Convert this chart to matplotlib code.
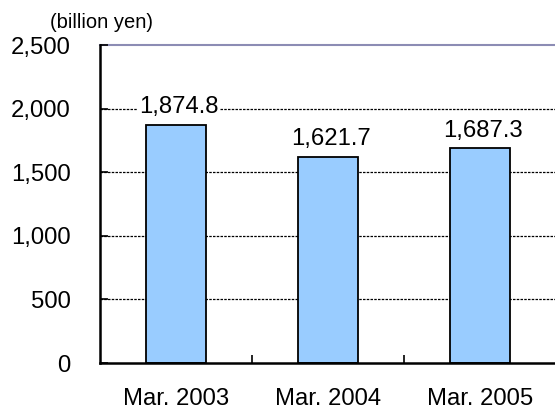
import matplotlib.pyplot as plt
import matplotlib.ticker as ticker

plt.rcParams['font.family'] = ['Liberation Sans', 'DejaVu Sans']

categories = ['Mar. 2003', 'Mar. 2004', 'Mar. 2005']
values = [1874.8, 1621.7, 1687.3]
value_labels = ['1,874.8', '1,621.7', '1,687.3']
y_ticks = [0, 500, 1000, 1500, 2000, 2500]

fig = plt.figure(figsize=(5.55, 4.12), dpi=100)
ax = fig.add_axes([0.1802, 0.1189, 0.8216, 0.7718])

x = list(range(len(categories)))
ax.bar(x, values, width=0.39, color='#99ccff', edgecolor='black', linewidth=1.3, zorder=3)

# gridlines (dotted) and the coloured line at the top
for yv in y_ticks[1:-1]:
    ax.axhline(yv, color='black', linestyle=(0, (2, 1)), linewidth=0.9, zorder=1)
ax.axhline(2500, color='#8c8cb4', linewidth=1.5, zorder=1, clip_on=False)

for xi, v, lab in zip(x, values, value_labels):
    ax.annotate(lab, (xi, v), xytext=(2, 8.5), textcoords='offset points',
                ha='center', va='baseline', fontsize=17.2, zorder=4,
                bbox=dict(boxstyle='square,pad=0.08', facecolor='white', edgecolor='none'))

ax.set_xlim(-0.5, 2.5)
ax.set_ylim(0, 2500)

ax.yaxis.set_major_locator(ticker.FixedLocator(y_ticks))
ax.yaxis.set_major_formatter(ticker.FuncFormatter(lambda v, p: f'{int(v):,}'))
ax.set_xticks(x)
ax.set_xticklabels(categories)
ax.xaxis.set_minor_locator(ticker.FixedLocator([0.5, 1.5]))

ax.tick_params(axis='y', direction='in', length=6, width=1.2, pad=21, labelsize=17.2)
ax.tick_params(axis='x', which='major', length=0, pad=18, labelsize=17.2)
ax.tick_params(axis='x', which='minor', direction='in', length=6, width=1.2)

for side in ['top', 'right']:
    ax.spines[side].set_visible(False)
for side in ['left', 'bottom']:
    ax.spines[side].set_linewidth(1.8)
    ax.spines[side].set_zorder(5)

fig.text(102 / 555, 1 - 22 / 412, '(billion yen)', ha='center', va='center', fontsize=14.5)

plt.savefig('out.png', dpi=100)
